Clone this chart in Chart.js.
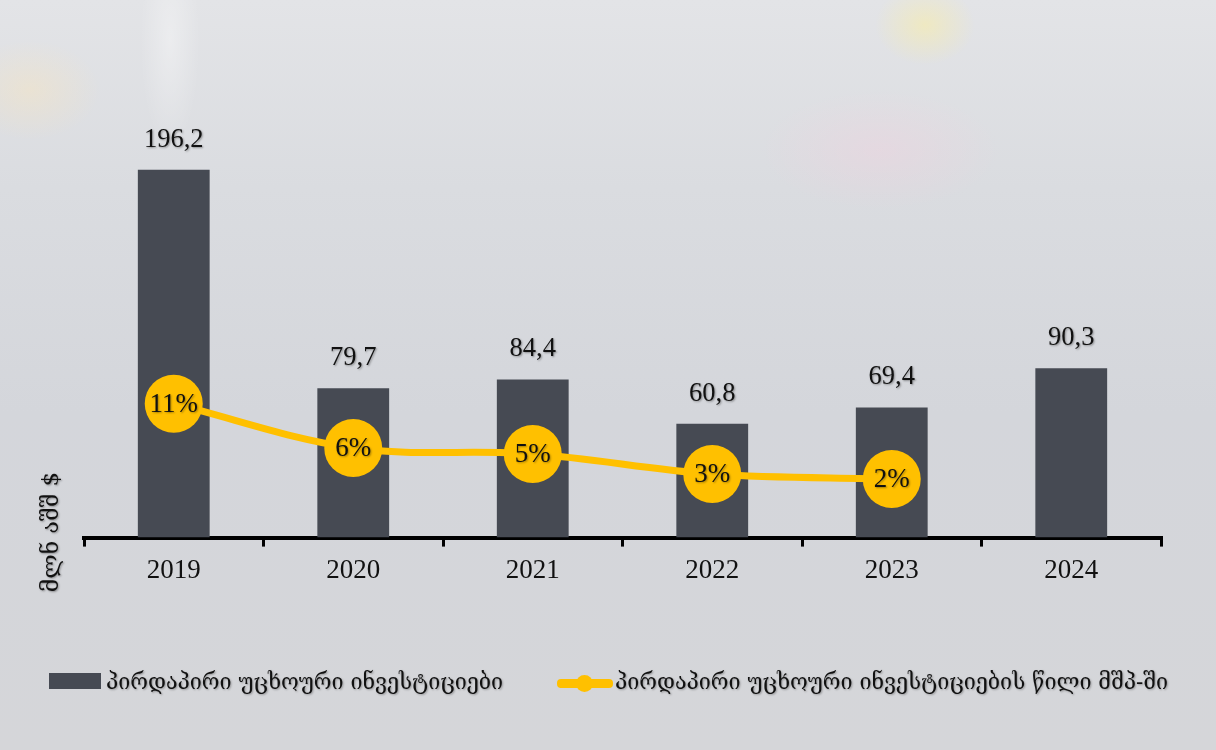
<!DOCTYPE html>
<html>
<head>
<meta charset="utf-8">
<script src="https://cdn.jsdelivr.net/npm/chart.js@4.4.1/dist/chart.umd.min.js"></script>
<style>
  html, body { margin: 0; padding: 0; }
  body {
    width: 1216px; height: 750px; overflow: hidden; position: relative;
    background:
      radial-gradient(ellipse 50px 40px at 925px 25px, rgba(255,240,150,0.45), rgba(255,240,150,0) 100%),
      radial-gradient(ellipse 120px 60px at 880px 150px, rgba(255,200,220,0.25), rgba(255,200,220,0) 100%),
      radial-gradient(ellipse 70px 50px at 30px 90px, rgba(255,230,180,0.35), rgba(255,230,180,0) 100%),
      radial-gradient(ellipse 30px 110px at 170px 40px, rgba(255,255,255,0.35), rgba(255,255,255,0) 100%),
      linear-gradient(180deg, #e3e4e7 0%, #dadce0 25%, #d4d6db 55%, #d5d6d9 100%);
  }
  #wrap { position: absolute; left: 0; top: 0; width: 1216px; height: 750px; }
  .legend { position: absolute; top: 667px; height: 28px; display: flex; align-items: center; font-family: "DejaVu Serif", "Liberation Serif", serif; font-size: 21.5px; color: #111; white-space: nowrap; text-shadow: 1px 1px 2px rgba(0,0,0,0.3); }
  .lg-box { display: inline-block; width: 52px; height: 16px; background: #464a53; margin-right: 5px; }
  .lg-line { display: inline-block; width: 56px; height: 9px; background: #ffc000; border-radius: 4px; margin-right: 2px; position: relative; top: 2px; }
  .lg-line::after { content: ""; position: absolute; left: 19px; top: -4px; width: 17px; height: 17px; border-radius: 50%; background: #ffc000; }
</style>
</head>
<body>
<div id="wrap"><canvas id="c" width="1216" height="750"></canvas></div>
<div class="legend" id="lg1" style="left:49px;"><span class="lg-box"></span><span id="t1"></span></div>
<div class="legend" id="lg2" style="left:557px;"><span class="lg-line"></span><span id="t2"></span></div>
<script>
const categories = ["2019", "2020", "2021", "2022", "2023", "2024"];
const fdiValues = [196.2, 79.7, 84.4, 60.8, 69.4, 90.3];
const fdiShareGdp = [11.0, 5.7, 5.0, 2.6, 2.0, null];
const fdiShareLabels = ["11%", "6%", "5%", "3%", "2%", ""];
const seriesNames = ["პირდაპირი უცხოური ინვესტიციები", "პირდაპირი უცხოური ინვესტიციების წილი მშპ-ში"];
const yAxisTitle = "მლნ აშშ $";

document.getElementById('t1').textContent = seriesNames[0];
document.getElementById('t2').textContent = seriesNames[1];

const SERIF = "'Liberation Serif', 'DejaVu Serif', serif";

const labelPlugin = {
  id: 'labels',
  afterDatasetsDraw(chart) {
    const ctx = chart.ctx;
    ctx.save();
    ctx.shadowColor = 'rgba(0,0,0,0.35)';
    ctx.shadowOffsetX = 1; ctx.shadowOffsetY = 1; ctx.shadowBlur = 2;
    ctx.fillStyle = '#111';
    ctx.textAlign = 'center';
    ctx.textBaseline = 'middle';
    const barMeta = chart.getDatasetMeta(0);
    ctx.font = "26.5px " + SERIF;
    barMeta.data.forEach((el, i) => {
      const v = fdiValues[i];
      if (v == null) return;
      ctx.fillText(v.toFixed(1).replace('.', ','), el.x, el.y - 30);
    });
    const lineMeta = chart.getDatasetMeta(1);
    ctx.font = "27px " + SERIF;
    lineMeta.data.forEach((el, i) => {
      if (fdiShareGdp[i] == null) return;
      ctx.fillText(fdiShareLabels[i], el.x, el.y + 1);
    });
    ctx.save();
    ctx.translate(52, 532);
    ctx.rotate(-Math.PI / 2);
    ctx.font = "23px 'DejaVu Serif', serif";
    ctx.fillText(yAxisTitle, 0, 0);
    ctx.restore();
    ctx.restore();
  }
};

new Chart(document.getElementById('c'), {
  data: {
    labels: categories,
    datasets: [
      {
        type: 'bar',
        label: seriesNames[0],
        data: fdiValues,
        backgroundColor: '#464a53',
        borderWidth: 0,
        categoryPercentage: 1.0,
        barPercentage: 0.4,
        yAxisID: 'y',
        order: 2
      },
      {
        type: 'line',
        label: seriesNames[1],
        data: fdiShareGdp,
        borderColor: '#ffc000',
        backgroundColor: '#ffc000',
        borderWidth: 7,
        pointRadius: 29,
        pointHoverRadius: 29,
        pointBorderWidth: 0,
        pointBackgroundColor: '#ffc000',
        tension: 0.35,
        yAxisID: 'y2',
        order: 1,
        clip: false
      }
    ]
  },
  options: {
    responsive: false,
    animation: false,
    events: [],
    layout: { padding: { left: 84, right: 55, top: 69, bottom: 155 } },
    plugins: {
      legend: { display: false },
      tooltip: { enabled: false }
    },
    scales: {
      x: {
        offset: true,
        grid: {
          display: true,
          drawOnChartArea: false,
          drawTicks: true,
          tickLength: 9,
          tickColor: '#000',
          lineWidth: 3,
          offset: true
        },
        border: { display: true, color: '#000', width: 4 },
        ticks: {
          color: '#111',
          font: { family: SERIF, size: 27 },
          padding: 8
        }
      },
      y: { display: false, min: 0, max: 250 },
      y2: { display: false, min: -5, max: 51 }
    }
  },
  plugins: [labelPlugin]
});
</script>
</body>
</html>
